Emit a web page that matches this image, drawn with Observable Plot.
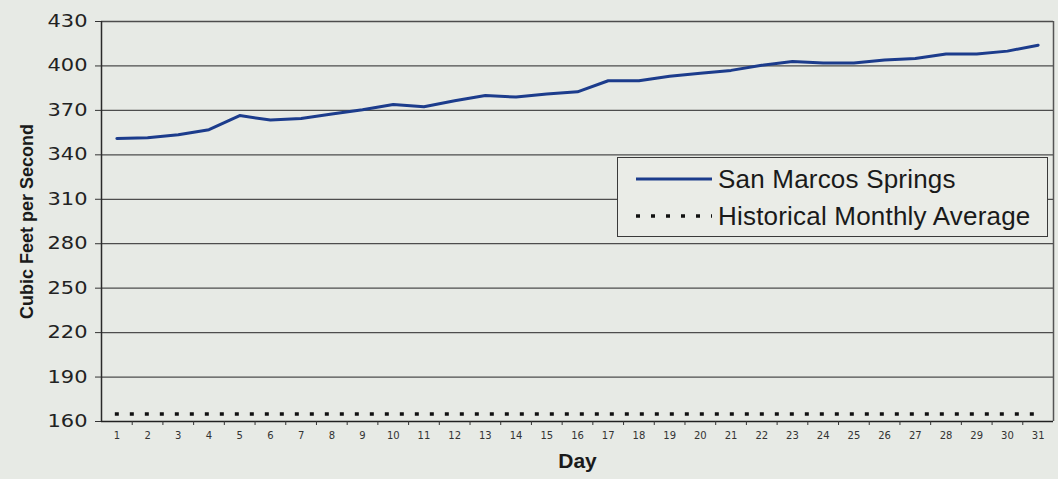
<!DOCTYPE html>
<html>
<head>
<meta charset="utf-8">
<script src="https://cdn.jsdelivr.net/npm/d3@7"></script>
<script src="https://cdn.jsdelivr.net/npm/@observablehq/plot@0.6"></script>
<style>
  html, body { margin: 0; padding: 0; background: #e7eae5; }
  #wrap { position: relative; width: 1058px; height: 479px; overflow: hidden; background: #e7eae5; }
  #legend { position: absolute; left: 617px; top: 157px; width: 429px; height: 78px;
            border: 1.5px solid #3a3a3a; background: #eaece7; font-family: "Liberation Sans", Arial, sans-serif; }
  #legend .item { position: absolute; left: 0; height: 36px; width: 100%; }
  #legend svg { position: absolute; left: 16px; top: 0; }
  #legend span { position: absolute; left: 100px; top: 1px; font-size: 26px; letter-spacing: 0.2px; color: #1a1a1a; line-height: 32px; white-space: nowrap; }
</style>
</head>
<body>
<div id="wrap"></div>
<script>
// ---- data ----
const days = [1,2,3,4,5,6,7,8,9,10,11,12,13,14,15,16,17,18,19,20,21,22,23,24,25,26,27,28,29,30,31];
const flowCfs = [351, 351.5, 353.5, 357, 366.5, 363.5, 364.5, 367.5, 370.5, 374, 372.5, 376.5, 380, 379, 381,
                 382.5, 390, 390, 393, 395, 397, 400.5, 403, 402, 402, 404, 405, 408, 408, 410, 414];
const historicalAverage = 165;
const yTicks = [160, 190, 220, 250, 280, 310, 340, 370, 400, 430];
const seriesNames = ["San Marcos Springs", "Historical Monthly Average"];
const yLabel = "Cubic Feet per Second";
const xLabel = "Day";

const lineColor = "#1c3c8c";
const data = days.map((d, i) => ({day: d, cfs: flowCfs[i]}));
const boundaries = days.slice(0, -1).map(d => d + 0.5);

const chart = Plot.plot({
  width: 1058,
  height: 479,
  marginLeft: 101,
  marginRight: 5,
  marginTop: 21,
  marginBottom: 58,
  style: {background: "transparent", fontFamily: "'Liberation Sans', Arial, sans-serif", color: "#222", overflow: "visible"},
  x: {domain: [0.5, 31.5]},
  y: {domain: [160, 430]},
  marks: [
    Plot.ruleY(yTicks.slice(1), {stroke: "#4d4d4d", strokeWidth: 1.3}),
    Plot.ruleX([0.5], {stroke: "#2a2a2a", strokeWidth: 1.5}),
    Plot.ruleX([31.5], {stroke: "#555", strokeWidth: 1.5}),
    Plot.ruleY([historicalAverage], {x1: days[0] - 0.05, x2: days[days.length - 1], stroke: "#111", strokeWidth: 3.5, strokeDasharray: "4,11"}),
    Plot.line(data, {x: "day", y: "cfs", stroke: lineColor, strokeWidth: 3, strokeLinejoin: "round", curve: "linear"}),
    Plot.ruleY([160], {stroke: "#222", strokeWidth: 1.5}),
    Plot.axisY(yTicks, {tickSize: 6, tickPadding: 8, fontSize: 17, fontFamily: "DejaVu Sans", label: null, stroke: "#333", fill: "#222"}),
    Plot.axisX(days, {tickSize: 0, tickPadding: 10, fontSize: 10, fontFamily: "DejaVu Sans", label: null, fill: "#333"}),
    Plot.axisX(boundaries, {tickSize: 4, tickFormat: () => "", label: null, stroke: "#333"}),
    Plot.text([yLabel], {text: d => d, frameAnchor: "left", textAnchor: "middle", dx: -74, rotate: -90, fontSize: 18, fontWeight: "bold", fill: "#1a1a1a"}),
    Plot.text([xLabel], {text: d => d, frameAnchor: "bottom", textAnchor: "middle", dy: 46, fontSize: 21, fontWeight: "bold", fill: "#1a1a1a"})
  ]
});

document.getElementById("wrap").appendChild(chart);

// widen the squarish y tick labels as in the reference
d3.select(chart).selectAll("g[aria-label='y-axis tick label'] text")
  .attr("textLength", 40).attr("lengthAdjust", "spacingAndGlyphs");

// ---- legend ----
const legend = document.createElement("div");
legend.id = "legend";
const styles = [
  {stroke: lineColor, width: 3, dash: null, top: 4},
  {stroke: "#111", width: 3.5, dash: "4,11", top: 41}
];
seriesNames.forEach((name, i) => {
  const item = document.createElement("div");
  item.className = "item";
  item.style.top = styles[i].top + "px";
  const s = styles[i];
  item.innerHTML = `<svg width="80" height="36"><line x1="2" x2="78" y1="17" y2="17" stroke="${s.stroke}" stroke-width="${s.width}" ${s.dash ? `stroke-dasharray="${s.dash}"` : ""}/></svg><span>${name}</span>`;
  legend.appendChild(item);
});
document.getElementById("wrap").appendChild(legend);
</script>
</body>
</html>
